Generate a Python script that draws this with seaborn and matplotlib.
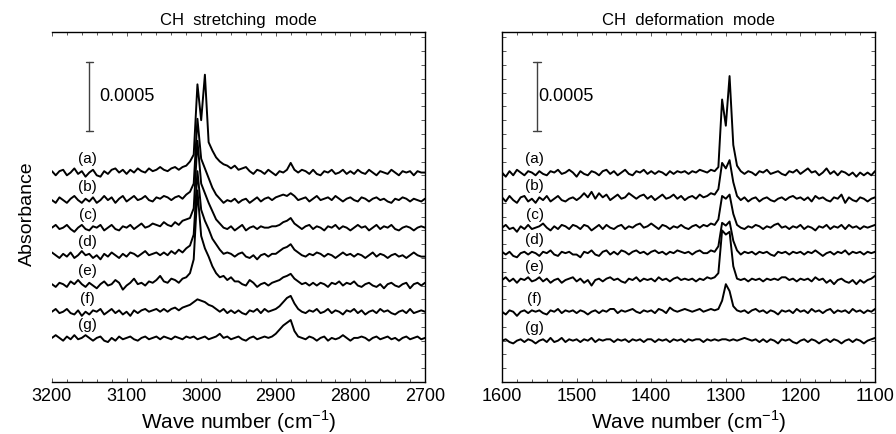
import numpy as np
import pandas as pd
import matplotlib
matplotlib.use("Agg")
import matplotlib.pyplot as plt
from matplotlib.ticker import MultipleLocator
import seaborn as sns

sns.set_style("ticks")
plt.rcParams["font.family"] = ["Liberation Sans", "DejaVu Sans"]
plt.rcParams["text.color"] = "black"
plt.rcParams["axes.labelcolor"] = "black"
plt.rcParams["xtick.labelcolor"] = "black"
plt.rcParams["axes.edgecolor"] = "black"

# wave numbers (cm-1), 5 cm-1 sampling
wn_stretch = [3200, 3195, 3190, 3185, 3180, 3175, 3170, 3165, 3160, 3155,
              3150, 3145, 3140, 3135, 3130, 3125, 3120, 3115, 3110, 3105,
              3100, 3095, 3090, 3085, 3080, 3075, 3070, 3065, 3060, 3055,
              3050, 3045, 3040, 3035, 3030, 3025, 3020, 3015, 3010, 3005,
              3000, 2995, 2990, 2985, 2980, 2975, 2970, 2965, 2960, 2955,
              2950, 2945, 2940, 2935, 2930, 2925, 2920, 2915, 2910, 2905,
              2900, 2895, 2890, 2885, 2880, 2875, 2870, 2865, 2860, 2855,
              2850, 2845, 2840, 2835, 2830, 2825, 2820, 2815, 2810, 2805,
              2800, 2795, 2790, 2785, 2780, 2775, 2770, 2765, 2760, 2755,
              2750, 2745, 2740, 2735, 2730, 2725, 2720, 2715, 2710, 2705,
              2700]
wn_deform = [1600, 1595, 1590, 1585, 1580, 1575, 1570, 1565, 1560, 1555,
             1550, 1545, 1540, 1535, 1530, 1525, 1520, 1515, 1510, 1505,
             1500, 1495, 1490, 1485, 1480, 1475, 1470, 1465, 1460, 1455,
             1450, 1445, 1440, 1435, 1430, 1425, 1420, 1415, 1410, 1405,
             1400, 1395, 1390, 1385, 1380, 1375, 1370, 1365, 1360, 1355,
             1350, 1345, 1340, 1335, 1330, 1325, 1320, 1315, 1310, 1305,
             1300, 1295, 1290, 1285, 1280, 1275, 1270, 1265, 1260, 1255,
             1250, 1245, 1240, 1235, 1230, 1225, 1220, 1215, 1210, 1205,
             1200, 1195, 1190, 1185, 1180, 1175, 1170, 1165, 1160, 1155,
             1150, 1145, 1140, 1135, 1130, 1125, 1120, 1115, 1110, 1105,
             1100]

# absorbance above each baseline, units of 1e-4
stretch_a = [0.1, -0.2, 0.1, 0.2, -0.2, 0.0, 0.3, -0.1, 0.1, -0.3,
             0.0, 0.2, -0.2, -0.3, 0.1, -0.1, 0.2, 0.3, 0.0, 0.2,
             -0.1, 0.2, 0.0, 0.3, 0.1, 0.0, 0.3, 0.1, 0.2, 0.4,
             0.2, 0.1, 0.3, 0.4, 0.2, 0.4, 0.5, 0.8, 1.3, 6.4,
             3.8, 7.1, 2.2, 1.6, 1.1, 0.8, 0.6, 0.5, 0.3, 0.5,
             0.2, 0.3, 0.4, 0.1, -0.1, 0.2, 0.1, -0.1, 0.2, 0.0,
             -0.2, 0.1, 0.0, 0.2, 0.7, 0.2, 0.0, 0.2, 0.1, -0.1,
             0.2, -0.1, -0.2, 0.1, 0.0, 0.2, -0.1, 0.0, 0.2, -0.1,
             0.1, -0.1, 0.2, 0.0, -0.1, 0.2, 0.0, -0.2, 0.1, 0.0,
             -0.1, 0.2, 0.0, -0.2, 0.1, 0.0, 0.1, -0.2, 0.1, 0.0,
             0.0]
stretch_b = [0.0, -0.2, 0.2, 0.0, -0.2, 0.1, 0.3, 0.0, -0.2, 0.1,
             -0.1, 0.2, -0.2, 0.0, 0.3, 0.0, 0.2, -0.2, 0.1, 0.3,
             -0.1, 0.1, 0.3, 0.0, 0.1, 0.3, 0.0, -0.1, 0.2, 0.1,
             0.3, 0.2, 0.0, 0.2, 0.3, 0.1, 0.4, 0.6, 1.2, 5.9,
             3.0, 2.3, 1.6, 0.9, 0.4, 0.1, -0.2, 0.0, -0.1, 0.1,
             -0.2, 0.0, 0.1, -0.2, 0.0, 0.2, -0.1, 0.1, 0.2, 0.0,
             0.2, 0.3, 0.4, 0.3, 0.5, 0.3, 0.0, 0.1, 0.2, -0.1,
             0.1, 0.3, 0.0, 0.1, 0.2, 0.0, 0.3, 0.1, -0.1, 0.1,
             0.2, 0.0, -0.1, 0.2, 0.1, -0.1, 0.1, 0.2, 0.0, 0.1,
             -0.1, -0.2, 0.1, 0.0, 0.2, 0.1, -0.1, 0.1, 0.0, -0.1,
             0.1]
stretch_c = [0.0, 0.2, -0.1, 0.0, 0.2, -0.1, -0.3, 0.0, 0.2, -0.1,
             -0.2, 0.1, 0.0, 0.2, -0.2, 0.0, 0.2, -0.1, -0.2, 0.1,
             0.0, 0.2, -0.1, 0.1, 0.3, 0.0, 0.1, 0.3, 0.2, 0.1,
             0.4, 0.2, 0.1, 0.4, 0.2, 0.5, 0.6, 0.7, 1.4, 6.3,
             3.2, 2.5, 1.8, 1.2, 0.6, 0.3, 0.0, -0.1, 0.1, -0.2,
             0.0, 0.2, -0.2, 0.0, 0.1, -0.1, 0.1, 0.0, 0.0, 0.1,
             0.1, 0.2, 0.4, 0.5, 0.7, 0.3, 0.1, -0.1, 0.1, 0.2,
             -0.1, 0.1, 0.0, -0.2, 0.1, 0.0, 0.2, -0.1, 0.1, 0.0,
             -0.2, 0.0, 0.2, 0.0, 0.1, -0.2, 0.0, 0.2, -0.1, 0.1,
             0.0, 0.2, -0.1, -0.2, 0.0, 0.1, 0.0, -0.2, 0.0, 0.1,
             0.0]
stretch_d = [0.2, 0.0, -0.2, 0.1, -0.1, 0.2, -0.2, 0.0, 0.3, 0.0,
             0.1, -0.2, 0.0, -0.3, 0.1, -0.1, 0.2, 0.0, -0.2, 0.1,
             -0.1, 0.2, 0.1, -0.1, 0.1, 0.3, 0.0, 0.1, 0.2, 0.0,
             0.2, 0.0, 0.3, 0.1, 0.4, 0.2, 0.5, 0.7, 1.5, 6.1,
             3.3, 2.5, 1.9, 1.2, 0.8, 0.4, 0.1, 0.2, 0.1, -0.1,
             0.1, 0.2, -0.1, -0.2, 0.0, -0.3, 0.0, 0.1, -0.1, 0.1,
             0.1, 0.3, 0.5, 0.6, 0.8, 0.4, 0.2, 0.0, -0.1, 0.1,
             0.0, 0.2, 0.1, -0.1, 0.1, 0.0, -0.2, 0.0, 0.2, 0.0,
             0.1, -0.1, 0.1, 0.0, -0.2, 0.0, 0.2, -0.1, 0.1, 0.0,
             -0.2, 0.0, 0.1, -0.1, 0.0, -0.2, 0.0, 0.2, 0.0, -0.1,
             -0.1]
stretch_e = [0.0, -0.2, 0.1, 0.0, -0.2, 0.2, 0.0, 0.3, 0.0, -0.2,
             0.1, -0.1, -0.3, 0.0, 0.2, -0.1, 0.0, 0.3, 0.1, -0.4,
             -0.1, 0.1, 0.4, 0.0, 0.1, -0.1, 0.2, 0.1, 0.3, 0.6,
             0.2, 0.1, 0.4, 0.3, 0.1, 0.4, 0.5, 0.8, 1.8, 6.8,
             3.5, 2.6, 2.0, 1.3, 0.8, 0.5, 0.6, 0.3, 0.5, 0.2,
             0.2, 0.0, -0.1, 0.3, 0.1, -0.2, 0.0, 0.1, -0.1, 0.1,
             0.2, 0.3, 0.5, 0.6, 0.75, 0.4, 0.2, 0.0, 0.1, -0.1,
             0.1, -0.1, 0.1, 0.0, -0.2, 0.1, 0.0, 0.2, -0.1, 0.1,
             0.0, 0.2, -0.1, -0.2, 0.0, 0.1, -0.1, -0.2, 0.0, -0.3,
             0.0, 0.1, -0.1, -0.2, 0.0, 0.1, -0.3, 0.0, 0.1, -0.1,
             0.1]
stretch_f = [0.0, 0.2, -0.1, 0.0, 0.2, -0.1, -0.2, 0.1, -0.3, 0.0,
             -0.2, 0.1, 0.0, 0.2, -0.2, 0.0, 0.2, -0.1, 0.1, -0.2,
             0.0, -0.3, 0.1, -0.1, 0.1, 0.2, 0.0, 0.1, 0.2, 0.0,
             0.2, 0.0, 0.2, 0.3, 0.1, 0.3, 0.4, 0.5, 0.7, 0.9,
             0.8, 0.7, 0.5, 0.4, 0.2, 0.0, 0.2, -0.1, 0.1, -0.1,
             0.1, -0.1, -0.2, 0.1, 0.0, 0.2, -0.1, 0.2, 0.0, 0.1,
             0.2, 0.4, 0.7, 1.0, 1.15, 0.6, 0.2, 0.0, -0.1, 0.1,
             0.0, 0.2, -0.1, 0.0, 0.2, -0.1, 0.1, 0.0, -0.2, 0.1,
             0.0, 0.2, -0.1, 0.1, -0.2, 0.0, 0.1, -0.1, 0.2, 0.0,
             0.1, -0.1, -0.2, 0.0, 0.1, -0.1, 0.2, -0.1, 0.0, 0.1,
             0.0]
stretch_g = [0.0, 0.2, 0.0, -0.2, 0.1, -0.1, 0.2, -0.1, 0.0, 0.2,
             0.0, -0.2, 0.0, 0.1, -0.2, -0.3, 0.0, -0.2, 0.1, -0.1,
             0.0, 0.1, -0.1, -0.2, 0.0, 0.1, -0.1, 0.0, 0.1, -0.1,
             0.1, 0.0, -0.1, 0.1, 0.0, -0.1, 0.1, 0.0, 0.1, -0.1,
             0.0, 0.1, -0.1, 0.0, 0.1, 0.3, 0.0, 0.1, -0.1, 0.0,
             0.1, -0.1, -0.2, 0.0, 0.1, -0.1, 0.0, 0.1, 0.0, 0.1,
             0.3, 0.6, 0.9, 1.1, 1.3, 0.5, 0.1, 0.0, -0.1, 0.1,
             0.0, -0.2, 0.0, 0.1, -0.2, 0.0, -0.1, 0.0, 0.2, 0.0,
             -0.2, 0.0, 0.0, 0.1, 0.0, -0.2, 0.0, 0.1, -0.1, 0.0,
             0.1, -0.1, 0.0, -0.2, 0.0, 0.1, -0.1, 0.0, 0.1, -0.1,
             0.0]

deform_a = [0.0, -0.3, 0.1, -0.2, 0.2, 0.0, -0.2, 0.1, 0.0, -0.2,
            0.1, -0.1, -0.2, 0.1, 0.0, 0.2, -0.1, 0.0, 0.2, 0.0,
            -0.3, 0.1, -0.1, -0.2, 0.1, 0.0, -0.2, 0.1, 0.2, -0.1,
            0.1, -0.2, 0.0, 0.2, -0.1, -0.2, 0.1, 0.0, 0.2, -0.1,
            0.1, -0.1, 0.1, 0.0, -0.2, 0.1, -0.1, 0.1, 0.0, 0.1,
            -0.1, 0.1, 0.0, 0.2, 0.1, 0.0, 0.2, 0.1, 0.4, 5.3,
            3.4, 7.0, 2.0, 0.5, 0.1, -0.1, 0.1, 0.0, -0.2, 0.1,
            0.0, 0.2, -0.1, 0.0, 0.1, -0.1, -0.2, 0.1, 0.0, 0.2,
            -0.1, 0.1, 0.3, 0.0, 0.1, -0.2, 0.0, 0.3, -0.1, 0.1,
            -0.2, 0.1, 0.0, -0.2, 0.0, -0.3, 0.0, -0.2, 0.0, -0.2,
            0.1]
deform_b = [0.1, -0.2, 0.2, -0.1, -0.3, 0.1, 0.2, -0.2, 0.0, -0.3,
            0.1, -0.1, 0.2, -0.2, 0.0, 0.2, -0.1, -0.2, 0.0, 0.1,
            -0.1, 0.1, 0.4, 0.1, 0.5, 0.0, 0.4, 0.1, 0.3, -0.1,
            0.1, 0.3, 0.0, 0.1, 0.4, 0.2, 0.0, 0.2, 0.3, 0.0,
            0.2, -0.1, 0.1, 0.3, 0.0, 0.1, 0.3, 0.0, 0.2, -0.1,
            0.1, 0.2, 0.0, 0.3, 0.1, 0.2, 0.4, 0.3, 0.7, 2.6,
            2.2, 2.8, 1.2, 0.2, -0.1, 0.1, -0.2, 0.0, 0.1, -0.2,
            0.0, 0.1, -0.1, -0.2, 0.0, 0.1, -0.1, 0.1, 0.2, 0.0,
            0.1, -0.1, 0.1, -0.2, 0.2, 0.0, 0.1, -0.1, -0.2, 0.1,
            0.0, 0.3, -0.3, 0.1, -0.1, -0.2, 0.1, 0.0, -0.2, 0.0,
            0.1]
deform_c = [0.0, 0.2, -0.1, 0.0, -0.3, 0.1, -0.1, 0.2, -0.1, 0.0,
            0.1, 0.3, 0.0, -0.2, 0.1, -0.1, 0.2, 0.1, -0.1, 0.2,
            0.1, -0.1, 0.2, 0.1, -0.2, 0.0, 0.2, -0.1, 0.2, 0.0,
            -0.1, 0.1, 0.2, -0.1, 0.1, 0.0, 0.2, 0.3, 0.0, 0.1,
            0.3, 0.1, -0.1, 0.2, 0.1, -0.1, 0.1, 0.0, 0.2, 0.0,
            -0.1, 0.1, 0.2, 0.0, 0.2, 0.1, 0.3, 0.2, 0.6, 2.3,
            2.1, 2.4, 1.0, 0.2, 0.0, -0.1, 0.1, 0.0, 0.2, 0.1,
            -0.1, 0.1, 0.0, 0.2, 0.3, 0.0, 0.1, -0.1, 0.1, 0.0,
            0.2, -0.1, 0.1, 0.0, -0.2, 0.1, 0.0, 0.2, -0.1, 0.1,
            0.0, 0.2, -0.1, 0.2, 0.0, 0.1, -0.1, 0.1, 0.0, 0.1,
            0.2]
deform_d = [0.1, -0.1, 0.1, -0.2, -0.3, 0.0, 0.1, -0.1, 0.1, 0.0,
            -0.2, 0.1, 0.0, 0.2, -0.1, -0.2, 0.1, 0.0, 0.1, -0.1,
            -0.1, -0.3, 0.1, 0.0, 0.2, -0.1, -0.2, 0.1, 0.2, -0.1,
            0.1, -0.1, 0.2, 0.1, -0.1, 0.1, 0.2, 0.0, 0.1, -0.1,
            0.1, 0.2, 0.0, 0.1, -0.1, 0.1, 0.0, 0.2, 0.1, 0.0,
            0.1, -0.1, 0.1, 0.2, 0.0, 0.0, 0.2, 0.1, 0.5, 2.2,
            2.0, 2.3, 0.9, 0.2, -0.1, 0.1, 0.0, 0.1, -0.1, 0.1,
            0.0, 0.1, -0.1, -0.2, 0.1, 0.0, 0.1, -0.1, 0.1, 0.0,
            0.1, -0.1, 0.1, 0.0, 0.2, 0.0, -0.2, 0.0, 0.1, -0.1,
            0.1, 0.0, 0.2, -0.1, 0.1, 0.0, 0.1, -0.1, 0.1, 0.0,
            0.1]
deform_e = [0.0, 0.2, -0.1, 0.1, -0.2, 0.1, 0.0, 0.2, -0.1, 0.0,
            0.2, -0.1, 0.1, -0.2, 0.0, 0.1, -0.2, 0.0, 0.1, 0.2,
            -0.1, 0.1, -0.2, 0.0, -0.4, 0.0, 0.1, -0.1, 0.1, 0.2,
            0.0, 0.1, -0.1, -0.2, 0.1, 0.0, 0.2, -0.1, 0.1, 0.0,
            0.1, -0.1, 0.2, 0.0, 0.1, -0.1, 0.1, 0.2, 0.0, 0.1,
            0.0, 0.1, -0.1, 0.1, 0.0, 0.2, 0.1, 0.2, 0.5, 3.6,
            3.3, 3.5, 1.0, 0.1, 0.0, 0.1, -0.1, 0.1, 0.0, 0.1,
            -0.1, 0.1, 0.0, 0.1, 0.0, 0.2, 0.2, 0.0, 0.1, -0.1,
            0.1, 0.0, 0.1, -0.1, 0.2, 0.0, 0.1, -0.2, 0.0, -0.3,
            0.0, 0.1, -0.1, -0.2, 0.0, -0.3, 0.0, -0.2, 0.0, 0.1,
            0.3]
deform_f = [0.0, -0.2, 0.1, 0.0, -0.3, 0.0, 0.1, -0.1, 0.1, 0.0,
            0.1, -0.1, -0.2, 0.1, 0.0, 0.2, -0.1, 0.1, 0.0, 0.1,
            -0.1, 0.1, 0.0, -0.2, 0.0, 0.1, -0.1, 0.1, 0.0, 0.2,
            0.2, -0.1, 0.1, 0.0, 0.1, 0.2, 0.0, -0.1, 0.1, 0.0,
            0.1, -0.1, 0.2, 0.1, -0.1, 0.3, 0.1, 0.0, 0.1, 0.2,
            0.1, 0.0, 0.1, 0.2, 0.0, 0.1, 0.2, 0.1, 0.2, 0.8,
            2.0, 1.5, 0.4, 0.1, 0.0, 0.1, -0.1, 0.1, 0.2, 0.0,
            0.1, -0.1, 0.1, 0.0, -0.2, 0.1, 0.0, 0.1, -0.1, 0.2,
            0.0, 0.1, -0.1, 0.2, 0.0, 0.1, -0.1, 0.1, 0.2, -0.1,
            0.1, 0.0, 0.1, -0.1, 0.2, 0.0, 0.1, -0.1, 0.1, 0.0,
            0.2]
deform_g = [0.0, 0.1, -0.1, -0.2, 0.0, 0.1, -0.1, 0.1, 0.0, -0.2,
            0.0, 0.1, -0.1, 0.2, -0.1, 0.0, 0.2, -0.1, 0.1, 0.0,
            0.1, -0.1, 0.1, 0.0, 0.2, -0.1, 0.1, 0.0, 0.1, 0.1,
            -0.1, 0.1, 0.0, 0.1, -0.1, 0.1, 0.0, 0.1, -0.1, 0.1,
            0.1, -0.1, 0.1, 0.0, 0.1, -0.1, 0.1, 0.0, 0.1, -0.1,
            0.1, 0.0, 0.1, 0.1, -0.1, 0.1, 0.0, 0.1, 0.0, 0.1,
            0.1, 0.0, 0.1, 0.0, 0.1, 0.2, 0.1, 0.0, 0.1, -0.1,
            0.1, -0.1, 0.1, 0.0, -0.2, 0.1, 0.0, 0.1, -0.1, -0.2,
            0.0, 0.1, -0.1, 0.1, 0.0, -0.2, 0.0, 0.1, -0.1, 0.1,
            0.0, -0.2, 0.0, 0.1, -0.1, 0.1, 0.0, -0.2, 0.0, 0.1,
            0.2]

trace_labels = ["(a)", "(b)", "(c)", "(d)", "(e)", "(f)", "(g)"]
stretch_traces = [stretch_a, stretch_b, stretch_c, stretch_d, stretch_e, stretch_f, stretch_g]
deform_traces = [deform_a, deform_b, deform_c, deform_d, deform_e, deform_f, deform_g]
scale_bar = 5.0  # 0.0005 in units of 1e-4

# vertical stacking of the spectra (layout)
stretch_offsets = [15.2, 13.2, 11.2, 9.2, 7.1, 5.1, 3.2]
deform_offsets = [15.2, 13.3, 11.2, 9.35, 7.4, 5.1, 3.0]


def draw_panel(ax, wn, traces, offsets, xlim, title, label_x, bar_x, text_x, hide_left):
    for lab, y, off in zip(trace_labels, traces, offsets):
        df = pd.DataFrame({"wn": wn, "absorb": np.array(y) + off})
        sns.lineplot(data=df, x="wn", y="absorb", ax=ax, color="black", lw=1.4)
        ax.text(label_x, off + 0.95, lab, fontsize=11, ha="center", va="center")

    # scale bar
    y0, y1 = 18.2, 18.2 + scale_bar
    ax.plot([bar_x, bar_x], [y0, y1], color="0.25", lw=1.0)
    ax.plot([bar_x - 5, bar_x + 5], [y0, y0], color="0.25", lw=1.0)
    ax.plot([bar_x - 5, bar_x + 5], [y1, y1], color="0.25", lw=1.0)
    ax.text(text_x, (y0 + y1) / 2, "0.0005", fontsize=13, ha="left", va="center")

    ax.set_xlim(*xlim)
    ax.set_ylim(0, 25.4)
    ax.xaxis.set_major_locator(MultipleLocator(100))
    ax.xaxis.set_minor_locator(MultipleLocator(20))
    ax.yaxis.set_major_locator(MultipleLocator(1))
    ax.tick_params(which="both", direction="in", top=True, right=True,
                   left=not hide_left, bottom=True, labelleft=False,
                   color="0.35", width=0.7)
    ax.tick_params(which="major", length=3, pad=4, labelsize=13)
    ax.tick_params(which="minor", length=2)
    for s in ax.spines.values():
        s.set_linewidth(1.0)
    if hide_left:
        ax.spines["left"].set_visible(False)
    ax.set_title(title, fontsize=12, pad=5)
    ax.set_xlabel("Wave number (cm$^{\\mathregular{-1}}$)", fontsize=15)
    ax.xaxis.set_label_coords(0.5, -0.076)
    ax.set_ylabel("")


fig = plt.figure(figsize=(8.96, 4.34), dpi=100)
ax1 = fig.add_axes([0.058, 0.1198, 0.4163, 0.8065])
ax2 = fig.add_axes([0.5603, 0.1198, 0.4163, 0.8065])

draw_panel(ax1, wn_stretch, stretch_traces, stretch_offsets, (3200, 2700),
           "CH  stretching  mode", 3152, 3150, 3137, True)
draw_panel(ax2, wn_deform, deform_traces, deform_offsets, (1600, 1100),
           "CH  deformation  mode", 1556, 1553, 1552, False)

ax1.set_ylabel("Absorbance", fontsize=14)
ax1.yaxis.set_label_coords(-0.043, 0.48)

fig.savefig("out.png", dpi=100)
